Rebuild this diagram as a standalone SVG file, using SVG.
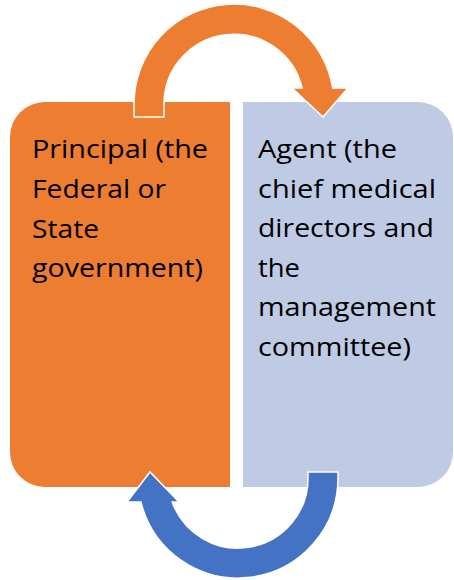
<svg xmlns="http://www.w3.org/2000/svg" width="454" height="580" viewBox="0 0 454 580">
<style>
.lbl{font-family:"Open Sans","Liberation Sans",sans-serif;font-size:25px;fill:#000}
.arrow{stroke:#ffffff;stroke-width:1.5;stroke-linejoin:miter}
</style>
<rect width="454" height="580" fill="#ffffff"/>
<g id="principal">
<path d="M45,102 L230,102 L230,487 L45,487 A35,35 0 0 1 10,452 L10,137 A35,35 0 0 1 45,102 Z" fill="#ED7D31"/>
<text class="lbl" x="32" y="158" textLength="176" lengthAdjust="spacingAndGlyphs">Principal (the</text>
<text class="lbl" x="32" y="198" textLength="134" lengthAdjust="spacingAndGlyphs">Federal or</text>
<text class="lbl" x="32" y="238" textLength="67" lengthAdjust="spacingAndGlyphs">State</text>
<text class="lbl" x="32" y="277" textLength="171" lengthAdjust="spacingAndGlyphs">government)</text>
</g>
<g id="agent">
<path d="M243,102 L418,102 A35,35 0 0 1 453,137 L453,452 A35,35 0 0 1 418,487 L243,487 Z" fill="#BFCAE4"/>
<text class="lbl" x="258" y="158" textLength="139" lengthAdjust="spacingAndGlyphs">Agent (the</text>
<text class="lbl" x="258" y="198" textLength="178" lengthAdjust="spacingAndGlyphs">chief medical</text>
<text class="lbl" x="258" y="237" textLength="176" lengthAdjust="spacingAndGlyphs">directors and</text>
<text class="lbl" x="258" y="277" textLength="42" lengthAdjust="spacingAndGlyphs">the</text>
<text class="lbl" x="258" y="316" textLength="178" lengthAdjust="spacingAndGlyphs">management</text>
<text class="lbl" x="258" y="356" textLength="153" lengthAdjust="spacingAndGlyphs">committee)</text>
</g>
<g id="connectors">
<path class="arrow" fill="#ED7D31" d="M134,117 L134,104 A100,100 0 0 1 332.7,88 L348,88 L323,117 L292,88 L302.1,88 A70,70 0 0 0 164,104 L164,117 Z"/>
<path class="arrow" fill="#4472C4" d="M338,472 L338,478 A100,100 0 0 1 140.9,502 L127,502 L150,472 L179,502 L172.2,502 A70,70 0 0 0 308,478 L308,472 Z"/>
</g>
</svg>
